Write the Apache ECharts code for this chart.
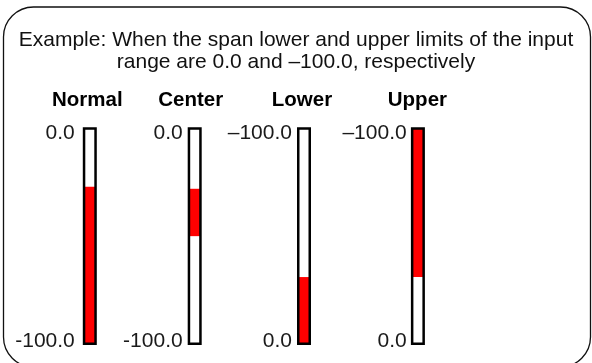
<!DOCTYPE html>
<html><head><meta charset="utf-8">
<script src="https://cdn.jsdelivr.net/npm/echarts@6/dist/echarts.min.js"></script>
<style>html,body{margin:0;padding:0;background:#fff}#c{width:592px;height:363px}</style>
</head><body><div id="c"></div>
<script>
// ---- data ----
const heading = ['Example: When the span lower and upper limits of the input', 'range are 0.0 and \u2013100.0, respectively'];
const modes = ['Normal', 'Center', 'Lower', 'Upper'];
const fillFrom = [-100, -50, 0, -100];   // where the red fill starts
const fillTo = [-27, -28, -31, -31];      // displayed value
const topTicks = ['0.0', '0.0', '\u2013100.0', '\u2013100.0'];
const bottomTicks = ['-100.0', '-100.0', '0.0', '0.0'];
const invertedScale = [false, false, true, true];

// ---- layout ----
const barCenters = [89.8, 194.7, 304, 417.9];
const barW = 11.5, gTop = 128.5, gH = 215.3;
const labelMargins = [9.3, 6.3, 6.3, 5.5];
const titlePad = [5, 8, 4, 1];
const FONT = '"Liberation Sans", Arial, Helvetica, sans-serif';

const grid = [], xAxis = [], yAxis = [], series = [];
modes.forEach((m, i) => {
  grid.push({
    left: barCenters[i] - barW / 2, top: gTop, width: barW, height: gH,
    show: true, borderColor: '#000', borderWidth: 2.5, backgroundColor: 'transparent', z: 5
  });
  xAxis.push({
    type: 'category', gridIndex: i, data: [m], position: 'top',
    axisLine: { show: false }, axisTick: { show: false },
    axisLabel: {
      show: true, margin: 17.5, color: '#000', fontFamily: FONT, fontSize: 20.5, fontWeight: 'bold',
      padding: [0, titlePad[i], 0, 0]
    }
  });
  yAxis.push({
    type: 'value', gridIndex: i, min: -100, max: 0, interval: 100, inverse: invertedScale[i],
    axisLine: { show: false }, axisTick: { show: false }, splitLine: { show: false },
    axisLabel: {
      margin: labelMargins[i], fontFamily: FONT, fontSize: 21, color: '#1a1a1a',
      formatter: v => {
        const atTop = invertedScale[i] ? v === -100 : v === 0;
        return atTop ? '{t|' + topTicks[i] + '}' : '{b|' + bottomTicks[i] + '}';
      },
      rich: {
        t: { padding: [10, 0, 0, 0], fontFamily: FONT, fontSize: 21, color: '#1a1a1a' },
        b: { padding: [0, 0, 6, 0], fontFamily: FONT, fontSize: 21, color: '#1a1a1a' }
      }
    }
  });
  const near = Math.max(fillFrom[i], fillTo[i]);
  const far = Math.min(fillFrom[i], fillTo[i]);
  series.push({
    type: 'bar', xAxisIndex: i, yAxisIndex: i, stack: 's' + i, z: 1,
    barWidth: '100%', silent: true, itemStyle: { color: 'transparent' },
    data: [near]
  });
  series.push({
    type: 'bar', xAxisIndex: i, yAxisIndex: i, stack: 's' + i, z: 1,
    barWidth: '100%', silent: true, itemStyle: { color: '#ff0000' },
    data: [far - near]
  });
});

const chart = echarts.init(document.getElementById('c'), null, { renderer: 'canvas' });
chart.setOption({
  animation: false,
  backgroundColor: '#fff',
  title: {
    text: heading.join('\n'), left: 296, top: 29, textAlign: 'center', padding: 0,
    textStyle: { fontFamily: FONT, fontSize: 21, fontWeight: 'normal', color: '#111', lineHeight: 22.4 }
  },
  graphic: [{
    type: 'rect', silent: true, z: 10,
    shape: { x: 3.5, y: 7, width: 587, height: 360, r: 30 },
    style: { fill: 'none', stroke: '#111', lineWidth: 1.3 }
  }],
  grid, xAxis, yAxis, series
});
</script></body></html>
